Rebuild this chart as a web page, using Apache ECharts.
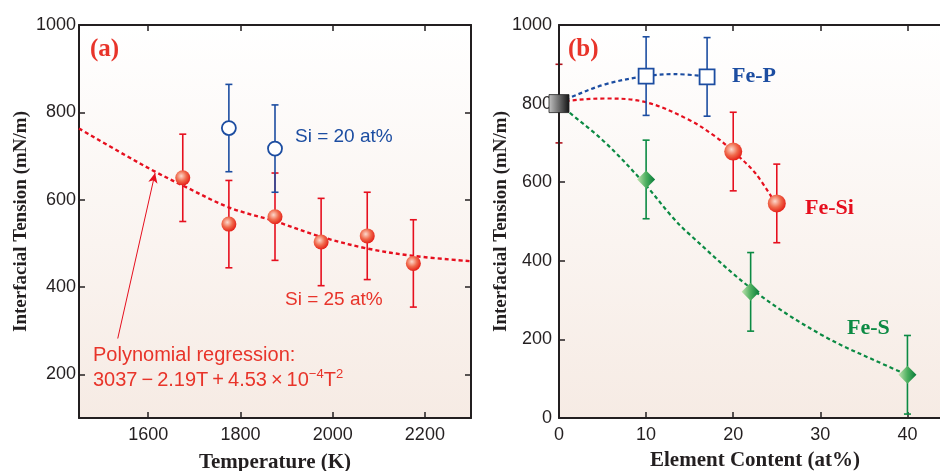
<!DOCTYPE html>
<html>
<head>
<meta charset="utf-8">
<script src="https://cdn.jsdelivr.net/npm/echarts@6/dist/echarts.min.js"></script>
<style>
  html, body { margin: 0; padding: 0; background: #fff; }
  #chart { width: 940px; height: 471px; }
</style>
</head>
<body>
<div id="chart"></div>
<script>
// (a) temperature dependence
const tempSi25 = [1675, 1775, 1875, 1975, 2075, 2175];
const tensionSi25 = [650, 544, 561, 503, 517, 454];
const errSi25 = [100, 100, 100, 100, 100, 100];
const tempSi20 = [1775, 1875];
const tensionSi20 = [764, 717];
const errSi20 = [100, 100];
const fitTemp = [1450, 1550, 1617, 1674, 1776, 1877, 1975, 2076, 2177, 2300];
const fitTension = [763, 702, 663, 633, 582, 550, 515, 488, 471, 459];
const tempTicks = [1600, 1800, 2000, 2200];
const tensionTicksA = [200, 400, 600, 800, 1000];

// (b) composition dependence
const feContent = [0];
const feTension = [800];
const feErr = [100];
const pContent = [10, 17];
const pTension = [870, 868];
const pErr = [100, 100];
const siContent = [20, 25];
const siTension = [678, 546];
const siErr = [100, 100];
const sContent = [10, 22, 40];
const sTension = [607, 321, 110];
const sErr = [100, 100, 100];
const pFitX = [0, 1, 5.3, 10, 13.3, 17];
const pFitY = [803, 813, 849, 870, 875, 869];
const siFitX = [0, 1, 5.3, 9.9, 14.8, 17.9, 20, 22.5, 24.8];
const siFitY = [800, 807, 813, 804, 760, 717, 678, 624, 548];
const sFitX = [0, 1, 5.3, 9.9, 12.9, 14.8, 22.5, 30.1, 37.8, 40];
const sFitY = [800, 781, 701, 594, 514, 471, 322, 212, 131, 110];
const contentTicks = [0, 10, 20, 30, 40];
const tensionTicksB = [0, 200, 400, 600, 800, 1000];

const RED = "#e60f1e";
const RED_TXT = "#e8342a";
const BLUE = "#1c4da1";
const GREEN = "#0b8a43";
const AXIS = "#231f20";
const SANS = '"Liberation Sans", Arial, sans-serif';
const SERIF = '"Liberation Serif", "Times New Roman", serif';

const zip = (xs, ys) => xs.map((x, i) => [x, ys[i]]);
const zip3 = (xs, ys, es) => xs.map((x, i) => [x, ys[i], es[i]]);
const plain = (v) => String(v);

const plotBg = {
  type: "linear", x: 0, y: 0, x2: 0, y2: 1,
  colorStops: [
    { offset: 0, color: "#ffffff" },
    { offset: 1, color: "#f6ebe4" },
  ],
};
const sphere = {
  type: "radial", x: 0.4, y: 0.38, r: 0.62,
  colorStops: [
    { offset: 0, color: "#fcd9cc" },
    { offset: 0.55, color: "#f06a4c" },
    { offset: 1, color: "#e5231a" },
  ],
};
const diamondFill = {
  type: "linear", x: 0, y: 0, x2: 1, y2: 0,
  colorStops: [
    { offset: 0, color: "#c0e3b0" },
    { offset: 0.5, color: "#4daf5f" },
    { offset: 1, color: "#067a38" },
  ],
};
const grayFill = {
  type: "linear", x: 0, y: 0, x2: 1, y2: 0,
  colorStops: [
    { offset: 0, color: "#c4c4c4" },
    { offset: 1, color: "#111111" },
  ],
};

// vertical error bar with caps
function errorBar(color) {
  return function (params, api) {
    const x = api.value(0), y = api.value(1), e = api.value(2);
    const top = api.coord([x, y + e]);
    const bot = api.coord([x, y - e]);
    const w = 3.5;
    const style = { stroke: color, lineWidth: 1.6 };
    return {
      type: "group",
      children: [
        { type: "line", shape: { x1: top[0], y1: top[1], x2: bot[0], y2: bot[1] }, style },
        { type: "line", shape: { x1: top[0] - w, y1: top[1], x2: top[0] + w, y2: top[1] }, style },
        { type: "line", shape: { x1: bot[0] - w, y1: bot[1], x2: bot[0] + w, y2: bot[1] }, style },
      ],
    };
  };
}

function errSeries(data, color, xi, z) {
  return {
    type: "custom",
    xAxisIndex: xi,
    yAxisIndex: xi,
    renderItem: errorBar(color),
    encode: { x: 0, y: 1 },
    data: data,
    z: z == null ? 3 : z,
    silent: true,
  };
}

function fitSeries(data, color, xi, width, extra) {
  return Object.assign({
    type: "line",
    xAxisIndex: xi,
    yAxisIndex: xi,
    data: data,
    smooth: 0.35,
    symbol: "none",
    lineStyle: { color: color, width: width, type: [4, 3] },
    z: 2,
    silent: true,
  }, extra || {});
}

function bottomAxis(gi, min, max, ticks, name, gap) {
  return {
    type: "value",
    gridIndex: gi,
    min: min,
    max: max,
    position: "bottom",
    name: name,
    nameLocation: "middle",
    nameGap: gap,
    nameMoveOverlap: false,
    nameTextStyle: { fontFamily: SERIF, fontWeight: "bold", fontSize: 21, color: AXIS },
    axisLine: { show: true, onZero: false, lineStyle: { color: AXIS, width: 2 } },
    axisTick: { show: true, inside: true, length: 6, customValues: ticks, lineStyle: { color: AXIS, width: 1.5 } },
    axisLabel: { customValues: ticks, formatter: plain, fontFamily: SANS, fontSize: 18, color: AXIS, margin: 8 },
    splitLine: { show: false },
  };
}
function topAxis(gi, min, max, ticks) {
  return {
    type: "value",
    gridIndex: gi,
    min: min,
    max: max,
    position: "top",
    axisLine: { show: true, onZero: false, lineStyle: { color: AXIS, width: 2 } },
    axisTick: { show: true, inside: true, length: 6, customValues: ticks, lineStyle: { color: AXIS, width: 1.5 } },
    axisLabel: { show: false },
    splitLine: { show: false },
  };
}
function leftAxis(gi, min, max, ticks, margin) {
  return {
    type: "value",
    gridIndex: gi,
    min: min,
    max: max,
    position: "left",
    name: "Interfacial Tension (mN/m)",
    nameLocation: "middle",
    nameRotate: 90,
    nameGap: 48,
    nameMoveOverlap: false,
    nameTextStyle: { fontFamily: SERIF, fontWeight: "bold", fontSize: 19, color: AXIS },
    axisLine: { show: true, onZero: false, lineStyle: { color: AXIS, width: 2 } },
    axisTick: { show: true, inside: true, length: 6, customValues: ticks, lineStyle: { color: AXIS, width: 1.5 } },
    axisLabel: { customValues: ticks, formatter: plain, fontFamily: SANS, fontSize: 18, color: AXIS, margin: margin },
    splitLine: { show: false },
  };
}
function rightAxis(gi, min, max, ticks) {
  return {
    type: "value",
    gridIndex: gi,
    min: min,
    max: max,
    position: "right",
    axisLine: { show: true, onZero: false, lineStyle: { color: AXIS, width: 2 } },
    axisTick: { show: true, inside: true, length: 6, customValues: ticks, lineStyle: { color: AXIS, width: 1.5 } },
    axisLabel: { show: false },
    splitLine: { show: false },
  };
}

function label(text, x, y, font, color) {
  return {
    type: "text",
    left: x,
    top: y,
    z: 10,
    style: { text: text, font: font, fill: color },
  };
}

const option = {
  animation: false,
  backgroundColor: "#ffffff",
  grid: [
    { left: 79, top: 25, width: 392, height: 393, show: true, backgroundColor: plotBg, borderWidth: 0, outerBoundsMode: "none" },
    { left: 559, top: 25, width: 392, height: 393, show: true, backgroundColor: plotBg, borderWidth: 0, outerBoundsMode: "none" },
  ],
  xAxis: [
    bottomAxis(0, 1450, 2300, tempTicks, "Temperature (K)", 34),
    bottomAxis(1, 0, 45, contentTicks, "Element Content (at%)", 32),
    topAxis(0, 1450, 2300, tempTicks),
    topAxis(1, 0, 45, contentTicks),
  ],
  yAxis: [
    leftAxis(0, 100, 1000, tensionTicksA, 3),
    leftAxis(1, 0, 1000, tensionTicksB, 7),
    rightAxis(0, 100, 1000, tensionTicksA),
    rightAxis(1, 0, 1000, tensionTicksB),
  ],
  series: [
    // (a)
    fitSeries(zip(fitTemp, fitTension), RED, 0, 2.4, {
      markLine: {
        silent: true,
        symbol: ["none", "arrow"],
        symbolSize: [7, 10],
        label: { show: false },
        lineStyle: { color: RED, width: 1, type: "solid" },
        data: [[{ coord: [1534, 282] }, { coord: [1615, 661] }]],
      },
    }),
    errSeries(zip3(tempSi25, tensionSi25, errSi25), RED, 0),
    errSeries(zip3(tempSi20, tensionSi20, errSi20), BLUE, 0),
    {
      type: "scatter", xAxisIndex: 0, yAxisIndex: 0, z: 4,
      data: zip(tempSi25, tensionSi25), symbol: "circle", symbolSize: 15,
      itemStyle: { color: sphere, opacity: 1 },
    },
    {
      type: "scatter", xAxisIndex: 0, yAxisIndex: 0, z: 4,
      data: zip(tempSi20, tensionSi20), symbol: "circle", symbolSize: 14,
      itemStyle: { color: "#ffffff", borderColor: BLUE, borderWidth: 1.8, opacity: 1 },
    },
    // (b)
    fitSeries(zip(pFitX, pFitY), BLUE, 1, 2.2),
    fitSeries(zip(siFitX, siFitY), RED, 1, 2.2),
    fitSeries(zip(sFitX, sFitY), GREEN, 1, 2.2),
    errSeries(zip3(feContent, feTension, feErr), "#b0121c", 1, 0),
    errSeries(zip3(pContent, pTension, pErr), BLUE, 1),
    errSeries(zip3(siContent, siTension, siErr), RED, 1),
    errSeries(zip3(sContent, sTension, sErr), GREEN, 1),
    {
      type: "scatter", xAxisIndex: 1, yAxisIndex: 1, z: 4,
      data: zip(pContent, pTension), symbol: "rect", symbolSize: 15,
      itemStyle: { color: "#ffffff", borderColor: BLUE, borderWidth: 1.8, opacity: 1 },
    },
    {
      type: "scatter", xAxisIndex: 1, yAxisIndex: 1, z: 4,
      data: zip(siContent, siTension), symbol: "circle", symbolSize: 18,
      itemStyle: { color: sphere, opacity: 1 },
    },
    {
      type: "scatter", xAxisIndex: 1, yAxisIndex: 1, z: 4,
      data: zip(sContent, sTension), symbol: "diamond", symbolSize: 18,
      itemStyle: { color: diamondFill, opacity: 1 },
    },
    {
      type: "scatter", xAxisIndex: 1, yAxisIndex: 1, z: 5,
      data: zip(feContent, feTension), symbol: "rect", symbolSize: [20, 18],
      itemStyle: { color: grayFill, borderColor: "#222", borderWidth: 0.8, opacity: 1 },
    },
  ],
  graphic: [
    label("(a)", 90, 37, "bold 25px " + SERIF, RED_TXT),
    label("(b)", 568, 37, "bold 25px " + SERIF, RED_TXT),
    label("Si = 20 at%", 295, 127, "19px " + SANS, BLUE),
    label("Si = 25 at%", 285, 290, "19px " + SANS, RED_TXT),
    label("Polynomial regression:", 93, 345, "20px " + SANS, RED_TXT),
    {
      type: "text",
      left: 93,
      top: 368,
      z: 10,
      style: {
        text: "3037\u2009\u2212\u20092.19T\u2009+\u20094.53\u2009\u00d7\u200910{sup|\u22124}T{sup|2}",
        font: "20px " + SANS,
        fill: RED_TXT,
        rich: {
          sup: { fontSize: 13, fontFamily: SANS, fill: RED_TXT, verticalAlign: "top", lineHeight: 24 },
        },
      },
    },
    label("Fe-P", 732, 65, "bold 22px " + SERIF, BLUE),
    label("Fe-Si", 805, 197, "bold 22px " + SERIF, RED),
    label("Fe-S", 847, 317, "bold 22px " + SERIF, GREEN),
  ],
};

const chart = echarts.init(document.getElementById("chart"));
chart.setOption(option);
</script>
</body>
</html>
